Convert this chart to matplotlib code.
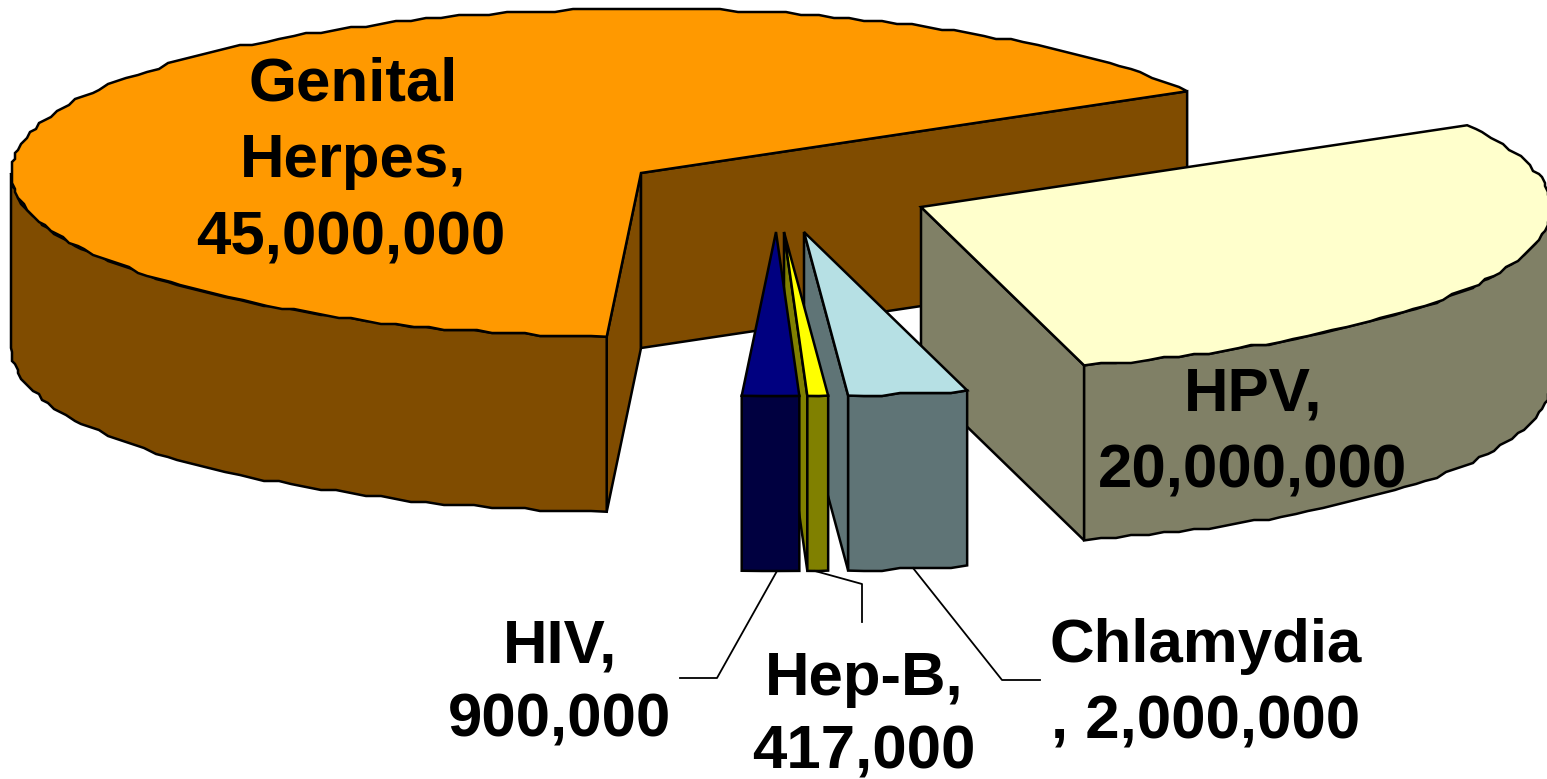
import numpy as np
import matplotlib
matplotlib.use('Agg')
import matplotlib.pyplot as plt

# slices, clockwise starting from the 30 degree line
names = ['HPV', 'Chlamydia', 'Hep-B', 'HIV', 'Genital Herpes']
values = [20000000, 2000000, 417000, 900000, 45000000]
top_colors = ['#FFFFCC', '#B6E0E4', '#FFFF00', '#000080', '#FF9900']
side_colors = ['#808066', '#5F7476', '#808000', '#000040', '#804C00']
# exploded position of each slice tip, in pixels
tips_x = [921, 804, 784, 776, 641]
tips_y = [207, 232, 232, 232, 173]
# small corrections of the slice boundaries, the original rounds its angles
nudge = [-0.2, 0.3, -0.15, 0.15, -0.35]

A = 630
B = 164
DEPTH = 175
START = 30.1
W, H = 1547, 779

plt.rcParams['font.family'] = ['Liberation Sans', 'DejaVu Sans']

fig = plt.figure(figsize=(W / 100, H / 100), dpi=100)
ax = fig.add_axes([0, 0, 1, 1])
ax.set_xlim(0, W)
ax.set_ylim(H, 0)
ax.axis('off')


def rim(cx, cy, a0, a1, drop=0):
    # the original edge is a rough polygon, snapping to a coarse grid gives the same wobble
    n = max(int(abs(a1 - a0) / 1.5), 2) + 1
    t = np.radians(np.linspace(a0, a1, n))
    x = cx + A * np.cos(t)
    y = cy - B * np.sin(t)
    x[1:-1] = np.round(x[1:-1] / 3) * 3
    y[1:-1] = np.round(y[1:-1] / 3) * 3
    return x, y + drop


def poly(x, y, color):
    ax.fill(x, y, facecolor=color, edgecolor='black', linewidth=1.8, joinstyle='miter')


def draw_slice(cx, cy, a_hi, a_lo, top, side):
    # a_hi is the counter clockwise end, a_lo the clockwise end
    faces = []
    if np.cos(np.radians(a_hi)) < 0:
        faces.append(a_hi)
    if np.cos(np.radians(a_lo)) > 0:
        faces.append(a_lo)
    for a in faces:
        ex = cx + A * np.cos(np.radians(a))
        ey = cy - B * np.sin(np.radians(a))
        poly([cx, ex, ex, cx], [cy, ey, ey + DEPTH, cy + DEPTH], side)

    # outer wall, only the part on the front half of the ellipse
    lo = a_lo % 360
    hi = lo + (a_hi - a_lo)
    for k in (0, 360):
        w0 = max(lo - k, 180)
        w1 = min(hi - k, 360)
        if w1 > w0:
            x0, y0 = rim(cx, cy, w0, w1)
            x1, y1 = rim(cx, cy, w1, w0, DEPTH)
            poly(np.r_[x0, x1], np.r_[y0, y1], side)

    x, y = rim(cx, cy, a_lo, a_hi)
    poly(np.r_[cx, x], np.r_[cy, y], top)


total = sum(values)
sweeps = 360.0 * np.array(values) / total
bounds = START - np.r_[0, np.cumsum(sweeps)[:-1]] + np.array(nudge)
bounds = np.r_[bounds, bounds[0] - 360]

# painter's order, back slices first
for name in ['Genital Herpes', 'HPV', 'Chlamydia', 'Hep-B', 'HIV']:
    i = names.index(name)
    draw_slice(tips_x[i], tips_y[i], bounds[i], bounds[i + 1], top_colors[i], side_colors[i])

# leader lines
ax.plot([777, 717, 680], [571, 678, 678], color='black', lw=1.3)
ax.plot([815, 862, 862], [571, 584, 622], color='black', lw=1.3)
ax.plot([913, 1002, 1040], [568, 680, 680], color='black', lw=1.3)

labels = [
    (353, 100, 'Genital'), (353, 177, 'Herpes,'), (351, 254, '45,000,000'),
    (1253, 410, 'HPV,'), (1253, 487, '20,000,000'),
    (560, 662, 'HIV,'), (560, 737, '900,000'),
    (864, 695, 'Hep-B,'), (864, 769, '417,000'),
    (1206, 662, 'Chlamydia'), (1206, 738, ', 2,000,000'),
]
for lx, ly, s in labels:
    ax.text(lx, ly, s, ha='center', va='baseline', fontsize=44.5, fontweight='bold', color='black')

fig.savefig('out.png', dpi=100, facecolor='white')
